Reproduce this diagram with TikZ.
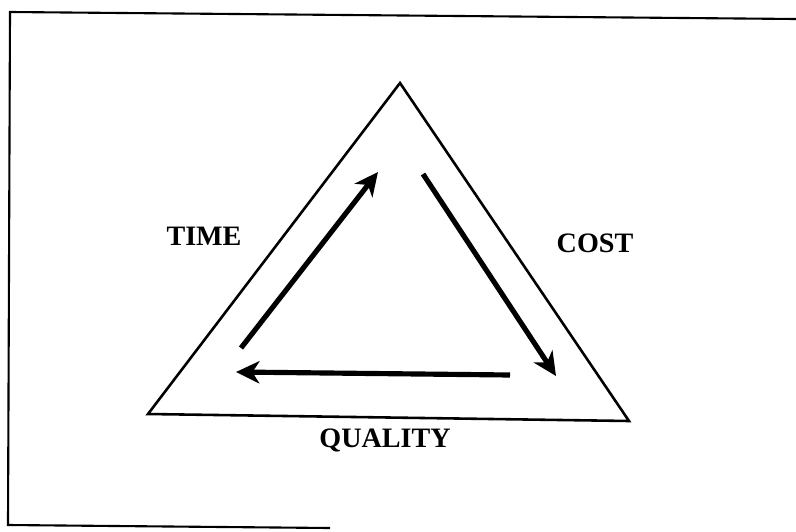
\documentclass[tikz,border=0pt]{standalone}
\usepackage{fontspec}
\setmainfont{Liberation Serif}
\usetikzlibrary{arrows.meta}

\begin{document}
\begin{tikzpicture}[
    x=0.03cm,y=-0.03cm,
    frame/.style={draw=black,line width=1.8pt},
    side/.style={draw=black,line width=2.2pt,line join=miter},
    flow/.style={-{Stealth[length=20pt,width=19pt,inset=6pt]},line width=4.4pt},
    label/.style={font=\fontsize{24}{26}\selectfont\bfseries}
]
\useasboundingbox (0,0) rectangle (796,531);

% Frame
\coordinate (f-tl) at (10,12);
\coordinate (f-tr) at (796,19);
\coordinate (f-bl) at (8,525);
\coordinate (f-br) at (330,528);
\draw[frame] (f-tr) -- (f-tl) -- (f-bl) -- (f-br);

% Triangle
\coordinate (apex) at (400,83);
\coordinate (left-corner) at (148,414);
\coordinate (right-corner) at (629,421);
\draw[side] (apex) -- (left-corner) -- (right-corner) -- cycle;

% Arrows
\coordinate (time-start) at (241,348);
\coordinate (time-end) at (378,172);
\coordinate (cost-start) at (423,174);
\coordinate (cost-end) at (556,376);
\coordinate (quality-start) at (510,375);
\coordinate (quality-end) at (236,372);

\draw[flow] (time-start) -- (time-end);
\draw[flow] (cost-start) -- (cost-end);
\draw[flow] (quality-start) -- (quality-end);

% Labels
\node[label] (time) at (204,236) {TIME};
\node[label] (cost) at (595,243) {COST};
\node[label] (quality) at (385,440) {QUALITY};

\end{tikzpicture}
\end{document}
